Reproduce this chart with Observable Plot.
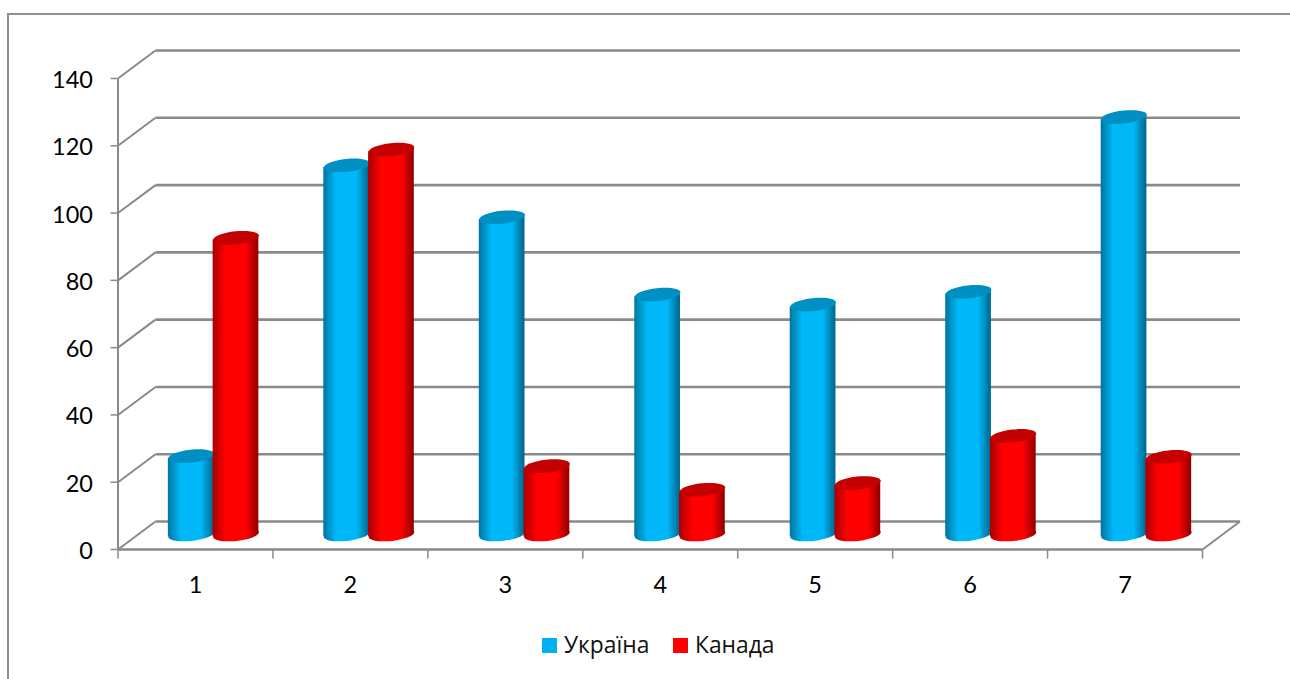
<!DOCTYPE html>
<html lang="uk">
<head>
<meta charset="utf-8">
<title>Україна і Канада</title>
<script src="https://cdn.jsdelivr.net/npm/d3@7"></script>
<script src="https://cdn.jsdelivr.net/npm/@observablehq/plot@0.6"></script>
<style>
  html, body { margin: 0; background: #fff; }
  #page { position: relative; width: 1290px; height: 679px; overflow: hidden; }
  #border { position: absolute; left: 7px; top: 13px; right: -4px; bottom: -4px;
            border-left: 2px solid #8f8f8f; border-top: 2px solid #8f8f8f; }
  #chart { position: absolute; left: 0; top: 0; }
  #chart svg { background: transparent; overflow: visible; }
  #legend { position: absolute; left: 0; top: 620px; width: 1290px; height: 59px;
            font: 22.8px "Open Sans", sans-serif; color: #111; }
  #legend span { position: absolute; top: 9px; line-height: 32px; }
  #legend i { position: absolute; top: 18px; width: 15px; height: 15px; }
</style>
</head>
<body>
<div id="page">
  <div id="border"></div>
  <div id="chart"></div>
  <div id="legend"></div>
</div>
<script>
const categories = ["1", "2", "3", "4", "5", "6", "7"];
const ukraine = [23.3, 109.7, 94.3, 71.3, 68.3, 72.1, 124.1];
const canada = [88.2, 114.4, 20.3, 13.3, 15.3, 29.3, 23.1];
const seriesNames = ["Україна", "Канада"];
const seriesColors = ["#00b0f0", "#ff0000"];
const yTicks = [0, 20, 40, 60, 80, 100, 120, 140];

// The box's depth, in data units of each axis.
const depthX = 0.242;
const depthY = 8.32;
// Cylinder layout inside a category, and the slant of its elliptical ends.
const barStep = 1.0035;
const barStart = 0.204;
const barWidth = 0.295;
const barBase = depthY / 2 + 0.3;
const slant = 0.65;
const boundaries = d3.range(categories.length + 1);

// Each cylinder body is a two-point area, slanted to meet its tilted ends.
function bodyRows(values, offset) {
  return values.flatMap((v, i) => {
    const left = i * barStep + barStart + offset * barWidth + depthX / 2;
    return [
      {id: i, x: left, y1: barBase - slant, y2: barBase + v - slant},
      {id: i, x: left + barWidth, y1: barBase + slant, y2: barBase + v + slant}
    ];
  });
}
const centerX = (i, offset) => i * barStep + barStart + (offset + 0.5) * barWidth + depthX / 2;

// Tilted ellipse for the cylinder ends, sized from the dot radius.
const tiltedEllipse = {
  draw(context, size) {
    const rx = Math.sqrt(size / Math.PI);
    const ry = rx * 0.28;
    const t = -6 * Math.PI / 180;
    const k = 0.5523;
    const px = (a, b) => a * rx * Math.cos(t) - b * ry * Math.sin(t);
    const py = (a, b) => a * rx * Math.sin(t) + b * ry * Math.cos(t);
    const c = (a1, b1, a2, b2, a3, b3) => context.bezierCurveTo(
      px(a1, b1), py(a1, b1), px(a2, b2), py(a2, b2), px(a3, b3), py(a3, b3));
    context.moveTo(px(1, 0), py(1, 0));
    c(1, k, k, 1, 0, 1);
    c(-k, 1, -1, k, -1, 0);
    c(-1, -k, -k, -1, 0, -1);
    c(k, -1, 1, -k, 1, 0);
    context.closePath();
  }
};

function gradient(id, edgeLeft, mid, edgeRight) {
  return `<linearGradient id="${id}" x1="0" x2="1" y1="0" y2="0">
    <stop offset="0" stop-color="${edgeLeft}"/>
    <stop offset="0.28" stop-color="${mid}"/>
    <stop offset="0.72" stop-color="${mid}"/>
    <stop offset="1" stop-color="${edgeRight}"/>
  </linearGradient>`;
}
const gradientDefs = () => {
  const defs = document.createElementNS("http://www.w3.org/2000/svg", "defs");
  defs.innerHTML =
    gradient("cylinderBlue", "#00759f", "#00b8f8", "#00658a") +
    gradient("cylinderRed", "#a80000", seriesColors[1], "#8f0000");
  return defs;
};

// Body, lower end and darker top of all the cylinders of one series.
function cylinders(values, offset, gradientId, topColor) {
  const bottoms = values.map((v, i) => ({x: centerX(i, offset), y: barBase}));
  const tops = values.map((v, i) => ({x: centerX(i, offset), y: barBase + v}));
  return [
    Plot.dot(bottoms, {x: "x", y: "y", r: 23, symbol: tiltedEllipse, fill: `url(#${gradientId})`, stroke: "none"}),
    Plot.area(bodyRows(values, offset), {x1: "x", y1: "y1", y2: "y2", z: "id", fill: `url(#${gradientId})`}),
    Plot.dot(tops, {x: "x", y: "y", r: 23, symbol: tiltedEllipse, fill: topColor, stroke: "none"})
  ];
}

const gridColor = "#8a8a8a";

const chart = Plot.plot({
  width: 1290,
  height: 620,
  marginLeft: 117.5,
  marginRight: 88,
  marginTop: 78,
  marginBottom: 71,
  style: {background: "transparent"},
  x: {domain: [0, categories.length], axis: null},
  y: {domain: [0, 140], axis: null},
  marks: [
    gradientDefs,
    // Back wall and its right-hand floor edge
    Plot.link(yTicks, {x1: depthX, x2: categories.length + depthX, y1: d => d + depthY, y2: d => d + depthY,
                       stroke: gridColor, strokeWidth: 2.6, strokeLinecap: "butt"}),
    // Side wall
    Plot.link(yTicks, {x1: 0, x2: depthX, y1: d => d, y2: d => d + depthY, stroke: gridColor, strokeWidth: 2}),
    Plot.link([0], {x1: categories.length, x2: categories.length + depthX, y1: 0, y2: depthY,
                    stroke: gridColor, strokeWidth: 2}),
    // Front axes
    Plot.link([0], {x1: 0, x2: 0, y1: 0, y2: 140, stroke: gridColor, strokeWidth: 2}),
    Plot.link([0], {x1: 0, x2: categories.length, y1: 0, y2: 0, stroke: gridColor, strokeWidth: 2.6}),
    Plot.link(boundaries, {x1: d => d, x2: d => d, y1: 0, y2: -2.7, stroke: gridColor, strokeWidth: 1.5}),
    Plot.axisY({ticks: yTicks, tickSize: 7, tickFormat: () => "", stroke: gridColor, strokeWidth: 1.5, label: null}),
    Plot.text(yTicks, {x: 0, y: d => d, dx: -25, dy: 2, textAnchor: "end", text: d => String(d),
                       fontSize: 23.5, fontFamily: "Lato", fill: "#000"}),
    Plot.text(categories, {x: (d, i) => i + 0.5, y: 0, dy: 36, text: d => d,
                           fontSize: 23.5, fontFamily: "Lato", fill: "#000"}),
    ...cylinders(ukraine, 0, "cylinderBlue", "#008fc2"),
    ...cylinders(canada, 0.98, "cylinderRed", "#c40000")
  ]
});
document.getElementById("chart").append(chart);

// Legend swatches and names below the plot
const legend = document.getElementById("legend");
const swatchLeft = [542, 673];
const nameLeft = [564, 695];
seriesNames.forEach((name, i) => {
  const swatch = document.createElement("i");
  swatch.style.left = swatchLeft[i] + "px";
  swatch.style.background = seriesColors[i];
  const label = document.createElement("span");
  label.style.left = nameLeft[i] + "px";
  label.textContent = name;
  legend.append(swatch, label);
});
</script>
</body>
</html>
